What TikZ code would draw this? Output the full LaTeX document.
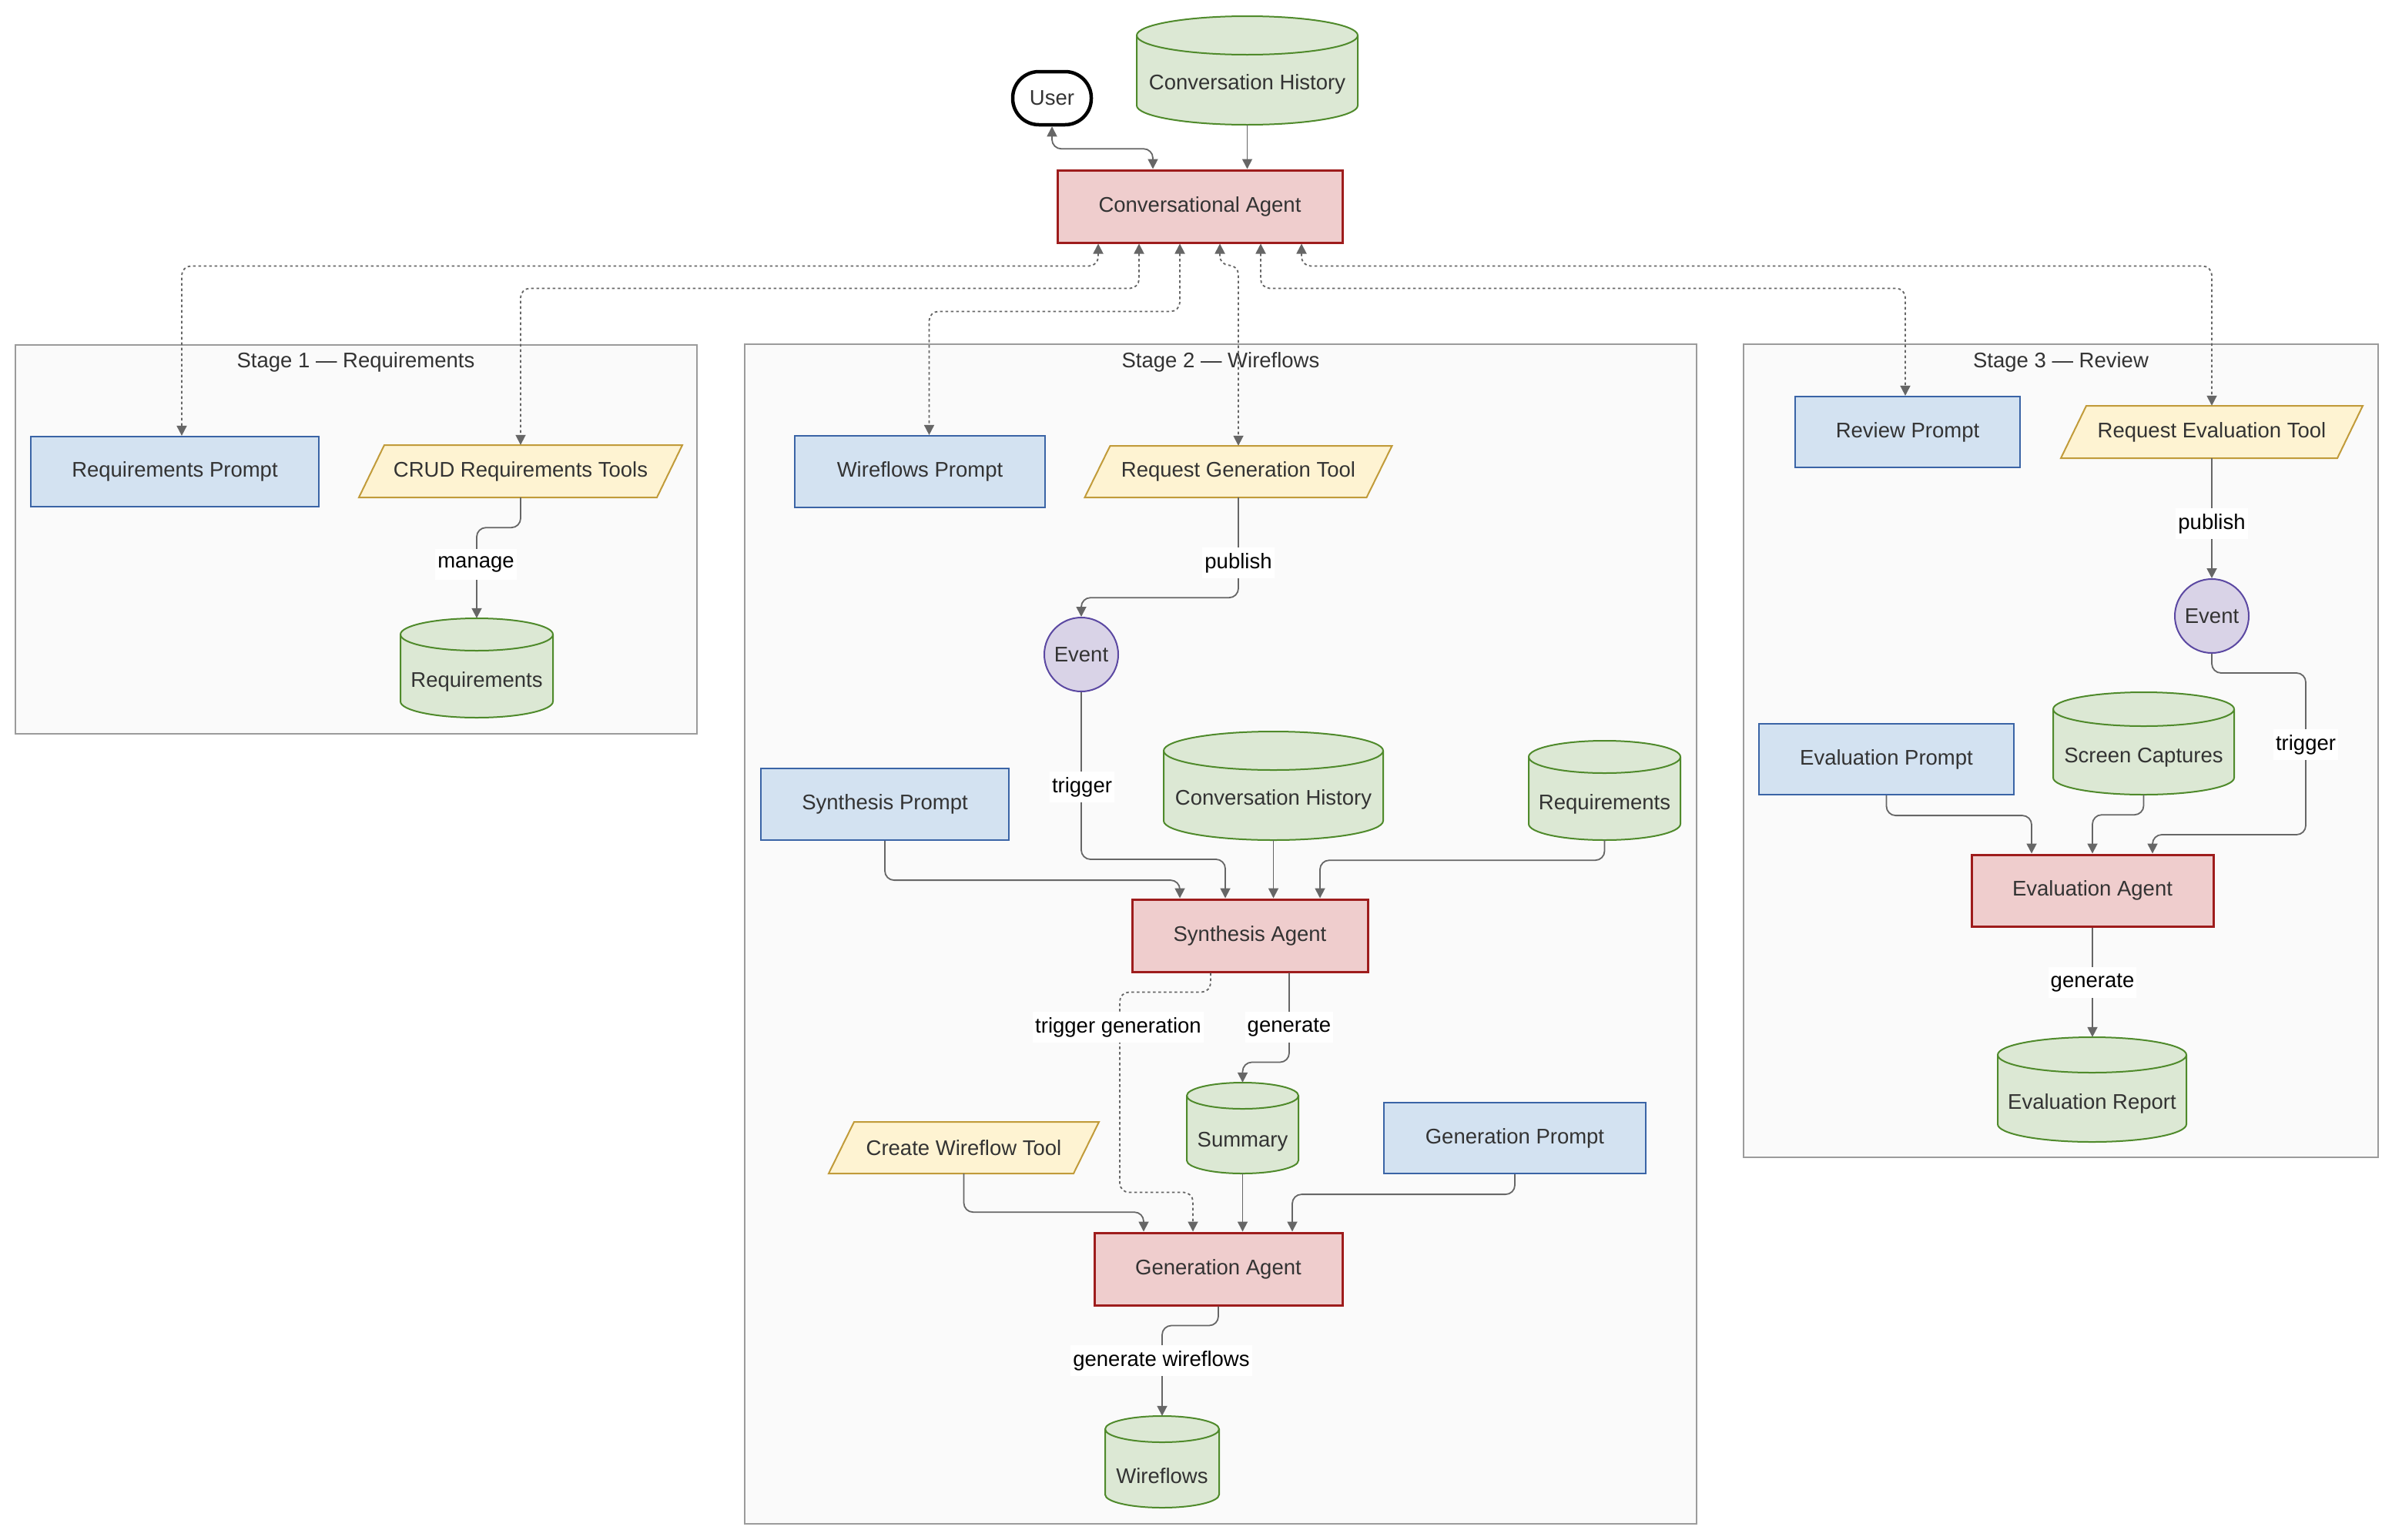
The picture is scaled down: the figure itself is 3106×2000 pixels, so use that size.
\documentclass[tikz,border=0pt]{standalone}
\usepackage{fontspec}
\setmainfont{Liberation Sans}
\usetikzlibrary{arrows.meta}
\definecolor{edgec}{HTML}{666666}
\definecolor{txt}{HTML}{333333}
\definecolor{promptf}{HTML}{D3E2F1}
\definecolor{promptd}{HTML}{3A64A6}
\definecolor{toolf}{HTML}{FEF3D2}
\definecolor{toold}{HTML}{C19B3A}
\definecolor{dataf}{HTML}{DCE8D4}
\definecolor{datad}{HTML}{4F8A2B}
\definecolor{agentf}{HTML}{EFCDCD}
\definecolor{agentd}{HTML}{9E1C1C}
\definecolor{eventf}{HTML}{D9D3E7}
\definecolor{eventd}{HTML}{5B48A2}
\definecolor{stagef}{HTML}{FAFAFA}
\definecolor{staged}{HTML}{9B9B9B}
\tikzset{
  base/.style={font=\fontsize{27.5}{33}\selectfont, text=txt},
  stagebox/.style={rectangle, draw=staged, fill=stagef, line width=2pt, inner sep=0pt},
  stagetitle/.style={base},
  promptbox/.style={base, rectangle, draw=promptd, fill=promptf, line width=2.2pt},
  agentbox/.style={base, rectangle, draw=agentd, fill=agentf, line width=3pt},
  userbox/.style={base, rectangle, rounded corners=34pt, draw=black, fill=white, line width=4.5pt, minimum width=102pt, minimum height=69pt},
  eventnode/.style={base, circle, draw=eventd, fill=eventf, line width=2pt, minimum size=96pt, inner sep=0pt},
  dbshape/.style={fill=dataf, draw=datad, line width=2pt},
  dbrim/.style={draw=datad, line width=2pt},
  toolshape/.style={fill=toolf, draw=toold, line width=2pt},
  arrowedge/.style={draw=edgec, line width=1.8pt, rounded corners=12pt, -{Triangle[length=13pt,width=13pt]}},
  dualedge/.style={draw=edgec, line width=1.8pt, rounded corners=12pt, {Triangle[length=13pt,width=13pt]}-{Triangle[length=13pt,width=13pt]}},
  dotline/.style={dash pattern=on 3.5pt off 3.5pt},
  elabel/.style={font=\fontsize{27.5}{33}\selectfont, text=black, fill=white, inner xsep=3pt, inner ysep=0pt, minimum height=40pt}
}
\newcommand\dbcyl[7]{%
  \path[dbshape] ({#2-#5},{#3+#6}) -- ({#2-#5},{#4-#6})
     arc[start angle=180,end angle=360,x radius=#5pt,y radius=#6pt]
     -- ({#2+#5},{#3+#6})
     arc[start angle=0,end angle=180,x radius=#5pt,y radius=#6pt] -- cycle;
  \draw[dbrim] ({#2-#5},{#3+#6}) arc[start angle=180,end angle=360,x radius=#5pt,y radius=#6pt];
  \node[inner sep=0pt, minimum width={2*#5pt}, minimum height={(#4-#3)*1pt}] (#1) at (#2,{(#3+#4)/2}) {};
  \node[base] (#1-t) at (#2,{(#3+#4)/2+18}) {#7};
}
\newcommand\toolpara[6]{%
  \path[toolshape] ({#2-#4-16.5},{#3+#5}) -- ({#2+#4-16.5},{#3+#5}) -- ({#2+#4+16.5},{#3-#5}) -- ({#2-#4+16.5},{#3-#5}) -- cycle;
  \node[base, inner sep=0pt, minimum width={2*#4pt}, minimum height={2*#5pt}] (#1) at (#2,#3) {#6};
}
\begin{document}
\begin{tikzpicture}[x=1pt,y=-1pt]
\useasboundingbox (0,0) rectangle (3106,2000);
\fill[white] (0,0) rectangle (3106,2000);

% stages
\node[stagebox, minimum width=885pt, minimum height=505pt] (s1) at (462.5,700.5) {};
\node[stagebox, minimum width=1236pt, minimum height=1532pt] (s2) at (1585,1213) {};
\node[stagebox, minimum width=824pt, minimum height=1056pt] (s3) at (2676,975) {};
\node[stagetitle] (s1t) at (462,470) {Stage 1 — Requirements};
\node[stagetitle] (s2t) at (1585,470) {Stage 2 — Wireflows};
\node[stagetitle] (s3t) at (2676,470) {Stage 3 — Review};

% top
\node[agentbox, minimum width=370pt, minimum height=94pt] (ca) at (1558,268) {Conversational Agent};
\node[userbox] (user) at (1366,127.5) {User};
\dbcyl{ch0}{1619.5}{21}{162}{143.5}{25}{Conversation History}

% stage 1
\node[promptbox, minimum width=374pt, minimum height=91pt] (rp1) at (227,612.5) {Requirements Prompt};
\toolpara{crud}{676}{612}{193.5}{34}{CRUD Requirements Tools}
\dbcyl{req1}{619}{803}{932}{99}{21}{Requirements}

% stage 2
\node[promptbox, minimum width=325pt, minimum height=93pt] (wp) at (1194.5,612.5) {Wireflows Prompt};
\toolpara{rgt}{1608}{612.5}{183}{33.5}{Request Generation Tool}
\node[eventnode] (ev1) at (1404,850) {Event};
\node[promptbox, minimum width=322pt, minimum height=93pt] (sp) at (1149,1044.5) {Synthesis Prompt};
\dbcyl{ch2}{1653.5}{950}{1091}{142.5}{25}{Conversation History}
\dbcyl{req2}{2083.5}{962}{1091}{98.5}{21}{Requirements}
\node[agentbox, minimum width=306pt, minimum height=94pt] (sa) at (1623,1215) {Synthesis Agent};
\dbcyl{sum}{1613.5}{1406}{1524}{72.5}{17}{Summary}
\node[promptbox, minimum width=340pt, minimum height=92pt] (gp) at (1967,1478) {Generation Prompt};
\toolpara{cwt}{1251.5}{1490.5}{159}{33.5}{Create Wireflow Tool}
\node[agentbox, minimum width=322pt, minimum height=94pt] (ga) at (1582,1648) {Generation Agent};
\dbcyl{wf}{1509}{1839}{1958}{74}{17}{Wireflows}

% stage 3
\node[promptbox, minimum width=292pt, minimum height=92pt] (rvp) at (2477,561) {Review Prompt};
\toolpara{ret}{2872}{561}{179.5}{34}{Request Evaluation Tool}
\node[eventnode] (ev2) at (2872,800) {Event};
\node[promptbox, minimum width=331pt, minimum height=92pt] (ep) at (2449.5,986) {Evaluation Prompt};
\dbcyl{sc}{2783.5}{899}{1032}{117.5}{22}{Screen Captures}
\node[agentbox, minimum width=314pt, minimum height=93pt] (ea) at (2717,1156.5) {Evaluation Agent};
\dbcyl{er}{2716.5}{1347}{1483}{122.5}{23}{Evaluation Report}

% edges: top
\draw[arrowedge] (ch0.south) -- (ch0.south |- ca.north);
\draw[dualedge] (user.south) -- ++(0,29) -| ([xshift=-61pt]ca.north);

% dotted edges from the conversational agent
\draw[dualedge, dotline] ([xshift=-132pt]ca.south) -- ++(0,29) -| ([xshift=9pt]rp1.north);
\draw[dualedge, dotline] ([xshift=-79pt]ca.south) -- ++(0,58) -| (crud.north);
\draw[dualedge, dotline] ([xshift=-26pt]ca.south) -- ++(0,88) -| ([xshift=12pt]wp.north);
\draw[dualedge, dotline] ([xshift=26pt]ca.south) -- ++(0,28) -| (rgt.north);
\draw[dualedge, dotline] ([xshift=79pt]ca.south) -- ++(0,58) -| ([xshift=-3pt]rvp.north);
\draw[dualedge, dotline] ([xshift=132pt]ca.south) -- ++(0,29) -| (ret.north);

% stage 1
\draw[arrowedge] (crud.south) -- ++(0,39) -| (req1.north);

% stage 2
\draw[arrowedge] (rgt.south) -- ++(0,130) -| (ev1.north);
\draw[arrowedge] (ev1.south) -- ++(0,217) -| ([xshift=-32pt]sa.north);
\draw[arrowedge] (sp.south) -- ++(0,51) -| ([xshift=-91pt]sa.north);
\draw[arrowedge] (ch2.south) -- (ch2.south |- sa.north);
\draw[arrowedge] (req2.south) -- ++(0,26) -| ([xshift=91pt]sa.north);
\draw[arrowedge, dotline] ([xshift=-51pt]sa.south) -- ++(0,25) -| ++(-118,260) -| ([xshift=-33pt]ga.north);
\draw[arrowedge] ([xshift=51pt]sa.south) -- ++(0,116) -| (sum.north);
\draw[arrowedge] (sum.south) -- (sum.south |- ga.north);
\draw[arrowedge] (gp.south) -- ++(0,26) -| ([xshift=96pt]ga.north);
\draw[arrowedge] (cwt.south) -- ++(0,50) -| ([xshift=-97pt]ga.north);
\draw[arrowedge] (ga.south) -- ++(0,25) -| (wf.north);

% stage 3
\draw[arrowedge] (ret.south) -- (ev2.north);
\draw[arrowedge] (ev2.south) -- ++(0,25) -| ++(122,210) -| ([xshift=78pt]ea.north);
\draw[arrowedge] (ep.south) -- ++(0,26) -| ([xshift=-79pt]ea.north);
\draw[arrowedge] (sc.south) -- ++(0,26) -| (ea.north);
\draw[arrowedge] (ea.south) -- (ea.south |- er.north);

% edge labels
\node[elabel] (l1) at (618,733) {manage};
\node[elabel] (l2) at (1608,731) {publish};
\node[elabel] (l3) at (1405,1022) {trigger};
\node[elabel] (l4) at (1452,1334) {trigger generation};
\node[elabel] (l5) at (1674,1334) {generate};
\node[elabel] (l6) at (1508,1767) {generate wireflows};
\node[elabel] (l7) at (2872,680) {publish};
\node[elabel] (l8) at (2994,967) {trigger};
\node[elabel] (l9) at (2717,1276) {generate};
\end{tikzpicture}
\end{document}
